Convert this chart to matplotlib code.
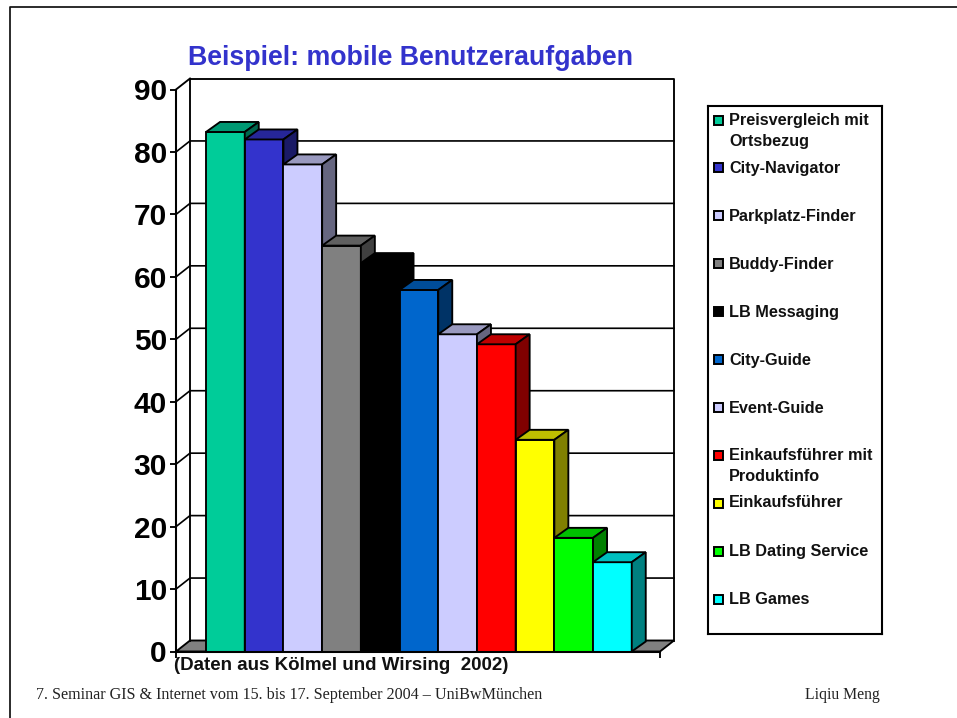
import numpy as np
import matplotlib
matplotlib.use('Agg')
from matplotlib import pyplot as plt
from matplotlib.lines import Line2D
from matplotlib.patches import Rectangle
from matplotlib.colors import to_rgb

W, H = 957, 718

names = ['Preisvergleich mit\nOrtsbezug', 'City-Navigator', 'Parkplatz-Finder', 'Buddy-Finder',
         'LB Messaging', 'City-Guide', 'Event-Guide', 'Einkaufsführer mit\nProduktinfo',
         'Einkaufsführer', 'LB Dating Service', 'LB Games']
values = [83.2, 82, 78, 65, 62.2, 57.9, 50.8, 49.2, 33.9, 18.2, 14.3]
colors = ['#00CC99', '#3333CC', '#CCCCFF', '#808080', '#000000', '#0066CC',
          '#CCCCFF', '#FF0000', '#FFFF00', '#00FF00', '#00FFFF']
yticks = list(range(0, 100, 10))

title = 'Beispiel: mobile Benutzeraufgaben'
source = '(Daten aus Kölmel und Wirsing  2002)'
footer = '7. Seminar GIS & Internet vom 15. bis 17. September 2004 – UniBwMünchen'
author = 'Liqiu Meng'

plt.rcParams['font.family'] = ['Liberation Sans', 'DejaVu Sans']
LW = 1.35


def shade(c, f):
    return tuple(v * f for v in to_rgb(c))


def fx(px):
    return px / W


def fy(py):
    return 1 - py / H


fig = plt.figure(figsize=(W / 100, H / 100), dpi=100)

# slide frame, runs off the right and bottom edges
fig.add_artist(Line2D([fx(10), fx(10), fx(W)], [fy(H), fy(7), fy(7)], color='#111111', lw=1.25))

# front plane of the 3d box
left, right, top, bottom = 176, 660, 89.5, 651.5
ax = fig.add_axes([fx(left), fy(bottom), fx(right - left), (bottom - top) / H])
ax.patch.set_alpha(0)
bar_px = 38.7
first_px = 225.4
x0 = (left - first_px) / bar_px
x1 = (right - first_px) / bar_px
ax.set_xlim(x0, x1)
ax.set_ylim(0, 90)
px_y = (bottom - top) / 90

wall_dx = 14 / bar_px
wall_dy = 11 / px_y
bar_dx = 14 / bar_px
bar_dy = 10 / px_y

# floor and walls
ax.fill([x0, x0 + wall_dx, x1 + wall_dx, x1], [0, wall_dy, wall_dy, 0],
        facecolor='#808080', edgecolor='k', lw=LW, clip_on=False, zorder=1)
ax.plot([x0 + wall_dx, x0 + wall_dx, x1 + wall_dx, x1 + wall_dx],
        [wall_dy, 90 + wall_dy, 90 + wall_dy, wall_dy], color='k', lw=LW, clip_on=False, zorder=1)
for v in yticks[1:-1]:
    ax.plot([x0, x0 + wall_dx, x1 + wall_dx], [v, v + wall_dy, v + wall_dy],
            color='k', lw=LW * 0.9, clip_on=False, zorder=1)
ax.plot([x0, x0 + wall_dx], [90, 90 + wall_dy], color='k', lw=LW, clip_on=False, zorder=1)

# bars left to right so every bar covers the side of the previous one
for i, (v, c) in enumerate(zip(values, colors)):
    a = i - 0.5
    b = i + 0.5
    z = 2 + i
    ax.bar(i, v, width=1, color=c, edgecolor='k', lw=LW, zorder=z, clip_on=False)
    ax.fill([a, a + bar_dx, b + bar_dx, b], [v, v + bar_dy, v + bar_dy, v],
            facecolor=shade(c, 0.75), edgecolor='k', lw=LW, clip_on=False, zorder=z)
    ax.fill([b, b + bar_dx, b + bar_dx, b], [0, bar_dy, v + bar_dy, v],
            facecolor=shade(c, 0.5), edgecolor='k', lw=LW, clip_on=False, zorder=z)

for s in ['top', 'right']:
    ax.spines[s].set_visible(False)
for s in ['left', 'bottom']:
    ax.spines[s].set_linewidth(LW * 1.1)
    ax.spines[s].set_zorder(30)
ax.set_yticks(yticks)
ax.set_xticks([x0, x1])
ax.set_xticklabels([])
ax.tick_params(axis='both', length=4.5, width=LW, direction='out')
ax.tick_params(axis='y', labelsize=21.5, pad=2)
for t in ax.get_yticklabels():
    t.set_fontweight('bold')

# legend box
lax = fig.add_axes([fx(708), fy(634), fx(882 - 708), (634 - 106) / H])
lax.set_xlim(708, 882)
lax.set_ylim(634, 106)
lax.set_xticks([])
lax.set_yticks([])
for s in lax.spines.values():
    s.set_linewidth(1.5)
row_y = 120 + 47.9 * np.arange(len(names))
for name, c, y in zip(names, colors, row_y):
    lax.add_patch(Rectangle((714.3, y - 4.5), 9, 9, facecolor=c, edgecolor='k', lw=1.4))
    lines = name.split('\n')
    for j, line in enumerate(lines):
        lax.text(729, y + 0.7 + j * 20.5 - (1 if name == 'Einkaufsführer' else 0), line, fontsize=11.7,
                 fontweight='bold', va='center', ha='left', color='#111111')

fig.text(fx(410.5), fy(58), title, color='#3333CC', fontsize=19.3, fontweight='bold', ha='center', va='center')
fig.text(fx(174), fy(665.5), source, color='#111111', fontsize=13.5, fontweight='bold', ha='left', va='center')
fig.text(fx(36), fy(695), footer, color='#222222', fontsize=11.63, family=['Liberation Serif', 'DejaVu Serif'],
         ha='left', va='center')
fig.text(fx(805), fy(695), author, color='#222222', fontsize=11.3, family=['Liberation Serif', 'DejaVu Serif'],
         ha='left', va='center')

fig.savefig('out.png', dpi=100)
